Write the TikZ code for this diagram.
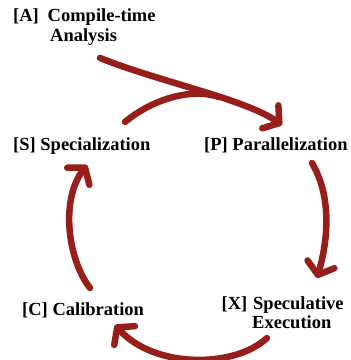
\documentclass[tikz,border=0pt]{standalone}
\usepackage{fontspec}
\setmainfont{Liberation Serif}
\usetikzlibrary{arrows.meta}
\definecolor{arr}{RGB}{152,30,26}
\begin{document}
\begin{tikzpicture}[x=1pt,y=1pt,
  lbl/.style={anchor=base west, inner sep=0pt, font=\fontsize{18.5}{20}\selectfont\bfseries, text=black},
  flow/.style={draw=arr, line width=6.5pt, line cap=round, -{Straight Barb[length=11pt,width=28pt,round]}},
  joinline/.style={draw=arr, line width=6.5pt, line cap=round}]
\useasboundingbox (0,0) rectangle (351,360);

% labels
\node[lbl] (A)  at (13,338.5) {[A]};
\node[lbl] (A1) at (47.5,338.5) {Compile-time};
\node[lbl] (A2) at (50,318.5) {Analysis};
\node[lbl] (S)  at (13,210) {[S] Specialization};
\node[lbl] (P)  at (204,210) {[P] Parallelization};
\node[lbl] (C)  at (22,44.5) {[C] Calibration};
\node[lbl] (X)  at (221.5,50) {[X]};
\node[lbl] (X1) at (253,50) {Speculative};
\node[lbl] (X2) at (252,31) {Execution};

% connector end points
\coordinate (a0) at (100,302);
\coordinate (pT) at (282,235);
\coordinate (s0) at (125,238);
\coordinate (m)  at (219,263);
\coordinate (r0) at (312,197);
\coordinate (xT) at (317,82);
\coordinate (b0) at (267,22);
\coordinate (cT) at (115,35);
\coordinate (l0) at (90,72);
\coordinate (sT) at (87,195);

% connectors
\draw[joinline] (s0) .. controls (150,259) and (189,273) .. (m);
\draw[flow] (a0) .. controls (160,278) and (245,261) .. (pT);
\draw[flow] (r0) .. controls (332,163) and (328,120) .. (xT);
\draw[flow] (b0) .. controls (235,-8) and (155,-9) .. (cT);
\draw[flow] (l0) .. controls (68,100) and (60,160) .. (sT);
\end{tikzpicture}
\end{document}
